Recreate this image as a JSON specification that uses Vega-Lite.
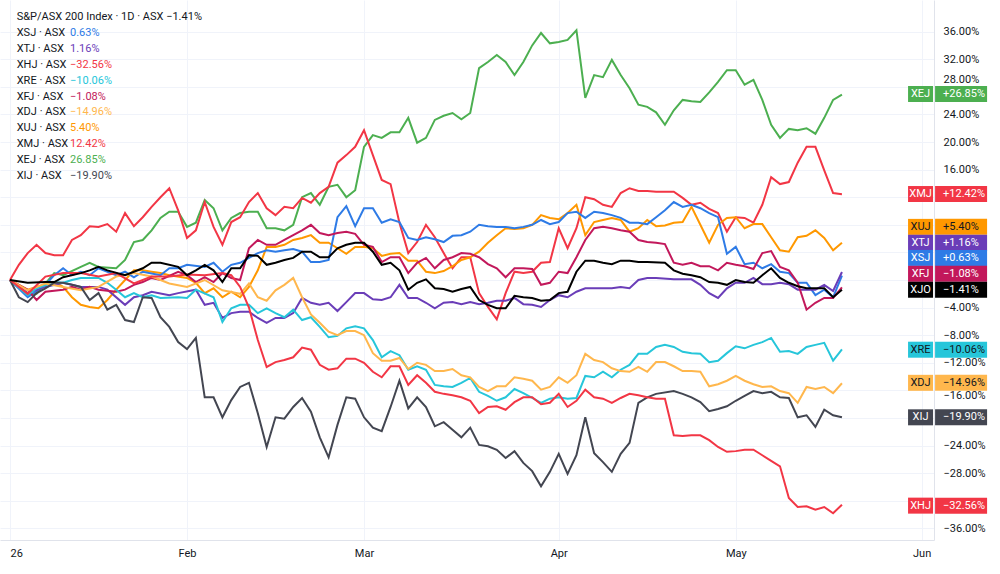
{
"$schema": "https://vega.github.io/schema/vega-lite/v6.json",
"width": 934, "height": 540,
"autosize": {"type": "none"},
"padding": {"left": 0, "top": 0, "right": 66, "bottom": 34},
"background": "#ffffff",
"config": {"view": {"stroke": null}, "font": "Roboto"},
"datasets": {
"tags": [
{"s":"XEJ","tv":26.96,"val":"+26.85%"},
{"s":"XMJ","tv":12.46,"val":"+12.42%"},
{"s":"XUJ","tv":7.7,"val":"+5.40%"},
{"s":"XTJ","tv":5.4,"val":"+1.16%"},
{"s":"XSJ","tv":3.2,"val":"+0.63%"},
{"s":"XFJ","tv":0.9,"val":"\u22121.08%"},
{"s":"XJO","tv":-1.41,"val":"\u22121.41%"},
{"s":"XRE","tv":-10.1,"val":"\u221210.06%"},
{"s":"XDJ","tv":-14.9,"val":"\u221214.96%"},
{"s":"XIJ","tv":-19.9,"val":"\u221219.90%"},
{"s":"XHJ","tv":-32.7,"val":"\u221232.56%"}
],
"legend": [
{"o":0,"s":"XJO","name":"S&P/ASX 200 Index \u00b7 1D \u00b7 ASX  \u22121.41%","val":""},
{"o":1,"s":"XSJ","name":"XSJ \u00b7 ASX","val":"0.63%"},
{"o":2,"s":"XTJ","name":"XTJ \u00b7 ASX","val":"1.16%"},
{"o":3,"s":"XHJ","name":"XHJ \u00b7 ASX","val":"\u221232.56%"},
{"o":4,"s":"XRE","name":"XRE \u00b7 ASX","val":"\u221210.06%"},
{"o":5,"s":"XFJ","name":"XFJ \u00b7 ASX","val":"\u22121.08%"},
{"o":6,"s":"XDJ","name":"XDJ \u00b7 ASX","val":"\u221214.96%"},
{"o":7,"s":"XUJ","name":"XUJ \u00b7 ASX","val":"5.40%"},
{"o":8,"s":"XMJ","name":"XMJ \u00b7 ASX","val":"12.42%"},
{"o":9,"s":"XEJ","name":"XEJ \u00b7 ASX","val":"26.85%"},
{"o":10,"s":"XIJ","name":"XIJ \u00b7 ASX","val":"\u221219.90%"}
],
"series": [
{"s":"XEJ","d":0,"v":0},{"s":"XEJ","d":2,"v":-2.2},{"s":"XEJ","d":3,"v":-2.0},{"s":"XEJ","d":5,"v":1.0},{"s":"XEJ","d":6,"v":0.7},{"s":"XEJ","d":8,"v":1.9},{"s":"XEJ","d":9,"v":2.5},{"s":"XEJ","d":10,"v":1.9},{"s":"XEJ","d":12,"v":1.7},{"s":"XEJ","d":13,"v":2.9},{"s":"XEJ","d":14,"v":5.5},{"s":"XEJ","d":15,"v":5.8},{"s":"XEJ","d":16,"v":7.2},{"s":"XEJ","d":17,"v":9.0},{"s":"XEJ","d":18,"v":9.9},{"s":"XEJ","d":19,"v":9.9},{"s":"XEJ","d":20,"v":7.7},{"s":"XEJ","d":21,"v":8.3},{"s":"XEJ","d":22,"v":11.6},{"s":"XEJ","d":23,"v":10.4},{"s":"XEJ","d":24,"v":7.2},{"s":"XEJ","d":25,"v":9.0},{"s":"XEJ","d":26,"v":9.7},{"s":"XEJ","d":27,"v":9.9},{"s":"XEJ","d":28,"v":9.9},{"s":"XEJ","d":29,"v":7.5},{"s":"XEJ","d":30,"v":7.5},{"s":"XEJ","d":31,"v":7.2},{"s":"XEJ","d":32,"v":8.0},{"s":"XEJ","d":33,"v":12.0},{"s":"XEJ","d":34,"v":12.6},{"s":"XEJ","d":35,"v":10.9},{"s":"XEJ","d":36,"v":13.5},{"s":"XEJ","d":37,"v":13.8},{"s":"XEJ","d":38,"v":12.0},{"s":"XEJ","d":39,"v":13.0},{"s":"XEJ","d":40,"v":19.3},{"s":"XEJ","d":41,"v":21.0},{"s":"XEJ","d":42,"v":20.6},{"s":"XEJ","d":43,"v":21.4},{"s":"XEJ","d":44,"v":21.4},{"s":"XEJ","d":45,"v":23.5},{"s":"XEJ","d":46,"v":19.9},{"s":"XEJ","d":47,"v":20.6},{"s":"XEJ","d":48,"v":23.2},{"s":"XEJ","d":49,"v":23.8},{"s":"XEJ","d":50,"v":24.2},{"s":"XEJ","d":51,"v":23.3},{"s":"XEJ","d":52,"v":24.2},{"s":"XEJ","d":53,"v":30.7},{"s":"XEJ","d":54,"v":31.6},{"s":"XEJ","d":55,"v":32.6},{"s":"XEJ","d":56,"v":31.6},{"s":"XEJ","d":57,"v":29.7},{"s":"XEJ","d":58,"v":31.6},{"s":"XEJ","d":59,"v":34.0},{"s":"XEJ","d":60,"v":35.8},{"s":"XEJ","d":61,"v":34.3},{"s":"XEJ","d":62,"v":34.5},{"s":"XEJ","d":63,"v":34.8},{"s":"XEJ","d":64,"v":36.2},{"s":"XEJ","d":65,"v":26.4},{"s":"XEJ","d":66,"v":29.7},{"s":"XEJ","d":67,"v":29.4},{"s":"XEJ","d":68,"v":31.9},{"s":"XEJ","d":69,"v":29.7},{"s":"XEJ","d":70,"v":27.8},{"s":"XEJ","d":71,"v":25.4},{"s":"XEJ","d":72,"v":25.1},{"s":"XEJ","d":73,"v":24.3},{"s":"XEJ","d":74,"v":22.5},{"s":"XEJ","d":75,"v":24.6},{"s":"XEJ","d":76,"v":26.1},{"s":"XEJ","d":77,"v":25.9},{"s":"XEJ","d":78,"v":25.8},{"s":"XEJ","d":79,"v":27.2},{"s":"XEJ","d":80,"v":28.7},{"s":"XEJ","d":81,"v":30.4},{"s":"XEJ","d":82,"v":30.4},{"s":"XEJ","d":83,"v":28.3},{"s":"XEJ","d":84,"v":29.0},{"s":"XEJ","d":85,"v":26.1},{"s":"XEJ","d":86,"v":22.5},{"s":"XEJ","d":87,"v":20.6},{"s":"XEJ","d":88,"v":21.9},{"s":"XEJ","d":89,"v":21.7},{"s":"XEJ","d":90,"v":22.0},{"s":"XEJ","d":91,"v":21.2},{"s":"XEJ","d":92,"v":23.5},{"s":"XEJ","d":93,"v":26.1},{"s":"XEJ","d":94,"v":26.85},
{"s":"XMJ","d":0,"v":0},{"s":"XMJ","d":1,"v":2.2},{"s":"XMJ","d":2,"v":3.9},{"s":"XMJ","d":3,"v":5.1},{"s":"XMJ","d":4,"v":3.9},{"s":"XMJ","d":5,"v":3.6},{"s":"XMJ","d":6,"v":3.6},{"s":"XMJ","d":7,"v":5.8},{"s":"XMJ","d":8,"v":6.5},{"s":"XMJ","d":9,"v":7.8},{"s":"XMJ","d":10,"v":7.7},{"s":"XMJ","d":11,"v":8.1},{"s":"XMJ","d":12,"v":7.0},{"s":"XMJ","d":13,"v":9.7},{"s":"XMJ","d":14,"v":7.8},{"s":"XMJ","d":15,"v":9.1},{"s":"XMJ","d":16,"v":10.6},{"s":"XMJ","d":17,"v":12.0},{"s":"XMJ","d":18,"v":13.3},{"s":"XMJ","d":19,"v":10.1},{"s":"XMJ","d":20,"v":6.1},{"s":"XMJ","d":21,"v":7.2},{"s":"XMJ","d":22,"v":11.3},{"s":"XMJ","d":23,"v":7.7},{"s":"XMJ","d":24,"v":5.1},{"s":"XMJ","d":25,"v":8.4},{"s":"XMJ","d":26,"v":9.1},{"s":"XMJ","d":27,"v":11.3},{"s":"XMJ","d":28,"v":12.6},{"s":"XMJ","d":29,"v":10.4},{"s":"XMJ","d":30,"v":9.4},{"s":"XMJ","d":31,"v":10.6},{"s":"XMJ","d":32,"v":10.4},{"s":"XMJ","d":33,"v":11.9},{"s":"XMJ","d":34,"v":11.2},{"s":"XMJ","d":35,"v":12.6},{"s":"XMJ","d":36,"v":13.5},{"s":"XMJ","d":37,"v":17.0},{"s":"XMJ","d":38,"v":18.1},{"s":"XMJ","d":39,"v":19.3},{"s":"XMJ","d":40,"v":21.7},{"s":"XMJ","d":41,"v":18.1},{"s":"XMJ","d":42,"v":14.5},{"s":"XMJ","d":43,"v":13.9},{"s":"XMJ","d":44,"v":8.3},{"s":"XMJ","d":45,"v":3.9},{"s":"XMJ","d":46,"v":5.5},{"s":"XMJ","d":47,"v":8.0},{"s":"XMJ","d":48,"v":6.2},{"s":"XMJ","d":49,"v":3.9},{"s":"XMJ","d":50,"v":1.7},{"s":"XMJ","d":51,"v":3.3},{"s":"XMJ","d":52,"v":3.3},{"s":"XMJ","d":53,"v":-1.9},{"s":"XMJ","d":54,"v":-3.9},{"s":"XMJ","d":55,"v":-5.7},{"s":"XMJ","d":56,"v":-1.9},{"s":"XMJ","d":57,"v":1.2},{"s":"XMJ","d":58,"v":1.0},{"s":"XMJ","d":59,"v":1.2},{"s":"XMJ","d":60,"v":2.5},{"s":"XMJ","d":61,"v":2.6},{"s":"XMJ","d":62,"v":7.5},{"s":"XMJ","d":63,"v":4.6},{"s":"XMJ","d":64,"v":7.5},{"s":"XMJ","d":65,"v":12.0},{"s":"XMJ","d":66,"v":11.7},{"s":"XMJ","d":67,"v":10.9},{"s":"XMJ","d":68,"v":10.6},{"s":"XMJ","d":69,"v":12.6},{"s":"XMJ","d":70,"v":13.3},{"s":"XMJ","d":71,"v":12.9},{"s":"XMJ","d":72,"v":12.9},{"s":"XMJ","d":73,"v":12.8},{"s":"XMJ","d":74,"v":12.8},{"s":"XMJ","d":75,"v":12.8},{"s":"XMJ","d":76,"v":11.9},{"s":"XMJ","d":77,"v":10.9},{"s":"XMJ","d":78,"v":11.2},{"s":"XMJ","d":79,"v":10.3},{"s":"XMJ","d":80,"v":9.7},{"s":"XMJ","d":81,"v":7.0},{"s":"XMJ","d":82,"v":9.1},{"s":"XMJ","d":83,"v":9.0},{"s":"XMJ","d":84,"v":8.3},{"s":"XMJ","d":85,"v":10.9},{"s":"XMJ","d":86,"v":14.9},{"s":"XMJ","d":87,"v":13.9},{"s":"XMJ","d":88,"v":14.2},{"s":"XMJ","d":89,"v":17.0},{"s":"XMJ","d":90,"v":19.3},{"s":"XMJ","d":91,"v":19.3},{"s":"XMJ","d":92,"v":15.9},{"s":"XMJ","d":93,"v":12.6},{"s":"XMJ","d":94,"v":12.42},
{"s":"XUJ","d":0,"v":0},{"s":"XUJ","d":2,"v":-1.4},{"s":"XUJ","d":3,"v":-1.0},{"s":"XUJ","d":5,"v":-0.3},{"s":"XUJ","d":6,"v":-1.0},{"s":"XUJ","d":7,"v":-2.5},{"s":"XUJ","d":8,"v":-3.6},{"s":"XUJ","d":9,"v":-3.9},{"s":"XUJ","d":10,"v":-4.1},{"s":"XUJ","d":11,"v":-2.9},{"s":"XUJ","d":12,"v":-1.4},{"s":"XUJ","d":13,"v":0},{"s":"XUJ","d":14,"v":1.4},{"s":"XUJ","d":15,"v":1.4},{"s":"XUJ","d":16,"v":1.2},{"s":"XUJ","d":17,"v":1.0},{"s":"XUJ","d":18,"v":0.7},{"s":"XUJ","d":20,"v":0.3},{"s":"XUJ","d":21,"v":-0.4},{"s":"XUJ","d":22,"v":-1.9},{"s":"XUJ","d":23,"v":-1.2},{"s":"XUJ","d":24,"v":-2.5},{"s":"XUJ","d":25,"v":-1.7},{"s":"XUJ","d":26,"v":-2.5},{"s":"XUJ","d":27,"v":-1.0},{"s":"XUJ","d":28,"v":1.4},{"s":"XUJ","d":29,"v":4.8},{"s":"XUJ","d":30,"v":4.8},{"s":"XUJ","d":31,"v":5.1},{"s":"XUJ","d":32,"v":5.8},{"s":"XUJ","d":33,"v":6.1},{"s":"XUJ","d":34,"v":6.5},{"s":"XUJ","d":35,"v":5.4},{"s":"XUJ","d":36,"v":5.4},{"s":"XUJ","d":37,"v":4.6},{"s":"XUJ","d":38,"v":3.8},{"s":"XUJ","d":39,"v":4.8},{"s":"XUJ","d":40,"v":4.8},{"s":"XUJ","d":41,"v":4.6},{"s":"XUJ","d":42,"v":3.5},{"s":"XUJ","d":43,"v":3.8},{"s":"XUJ","d":44,"v":3.9},{"s":"XUJ","d":45,"v":2.8},{"s":"XUJ","d":46,"v":2.8},{"s":"XUJ","d":47,"v":1.2},{"s":"XUJ","d":48,"v":1.0},{"s":"XUJ","d":49,"v":1.3},{"s":"XUJ","d":50,"v":2.0},{"s":"XUJ","d":51,"v":2.9},{"s":"XUJ","d":52,"v":3.3},{"s":"XUJ","d":53,"v":4.1},{"s":"XUJ","d":54,"v":5.4},{"s":"XUJ","d":55,"v":6.5},{"s":"XUJ","d":56,"v":7.5},{"s":"XUJ","d":57,"v":7.4},{"s":"XUJ","d":58,"v":7.5},{"s":"XUJ","d":59,"v":8.0},{"s":"XUJ","d":60,"v":9.4},{"s":"XUJ","d":61,"v":9.0},{"s":"XUJ","d":62,"v":8.8},{"s":"XUJ","d":63,"v":9.7},{"s":"XUJ","d":64,"v":10.9},{"s":"XUJ","d":65,"v":6.5},{"s":"XUJ","d":66,"v":8.4},{"s":"XUJ","d":67,"v":8.7},{"s":"XUJ","d":68,"v":9.0},{"s":"XUJ","d":69,"v":8.7},{"s":"XUJ","d":70,"v":7.0},{"s":"XUJ","d":71,"v":7.5},{"s":"XUJ","d":72,"v":8.7},{"s":"XUJ","d":73,"v":7.8},{"s":"XUJ","d":74,"v":7.9},{"s":"XUJ","d":75,"v":8.3},{"s":"XUJ","d":76,"v":8.4},{"s":"XUJ","d":77,"v":10.6},{"s":"XUJ","d":78,"v":8.0},{"s":"XUJ","d":79,"v":5.4},{"s":"XUJ","d":80,"v":8.0},{"s":"XUJ","d":81,"v":9.0},{"s":"XUJ","d":82,"v":9.1},{"s":"XUJ","d":83,"v":7.5},{"s":"XUJ","d":84,"v":8.1},{"s":"XUJ","d":85,"v":8.1},{"s":"XUJ","d":86,"v":6.2},{"s":"XUJ","d":87,"v":4.3},{"s":"XUJ","d":88,"v":4.1},{"s":"XUJ","d":89,"v":6.2},{"s":"XUJ","d":90,"v":6.4},{"s":"XUJ","d":91,"v":7.2},{"s":"XUJ","d":92,"v":6.1},{"s":"XUJ","d":93,"v":4.3},{"s":"XUJ","d":94,"v":5.4},
{"s":"XSJ","d":0,"v":0},{"s":"XSJ","d":2,"v":-2.5},{"s":"XSJ","d":4,"v":-0.7},{"s":"XSJ","d":5,"v":0.7},{"s":"XSJ","d":6,"v":1.7},{"s":"XSJ","d":7,"v":0.7},{"s":"XSJ","d":8,"v":1.2},{"s":"XSJ","d":9,"v":0.7},{"s":"XSJ","d":10,"v":1.7},{"s":"XSJ","d":11,"v":1.2},{"s":"XSJ","d":12,"v":0.7},{"s":"XSJ","d":13,"v":1.2},{"s":"XSJ","d":14,"v":0.4},{"s":"XSJ","d":15,"v":1.2},{"s":"XSJ","d":17,"v":0.7},{"s":"XSJ","d":18,"v":1.7},{"s":"XSJ","d":19,"v":1.7},{"s":"XSJ","d":20,"v":2.2},{"s":"XSJ","d":22,"v":1.9},{"s":"XSJ","d":23,"v":2.5},{"s":"XSJ","d":24,"v":1.2},{"s":"XSJ","d":25,"v":2.2},{"s":"XSJ","d":26,"v":2.5},{"s":"XSJ","d":27,"v":3.2},{"s":"XSJ","d":28,"v":3.9},{"s":"XSJ","d":29,"v":4.3},{"s":"XSJ","d":30,"v":4.1},{"s":"XSJ","d":31,"v":4.3},{"s":"XSJ","d":32,"v":4.5},{"s":"XSJ","d":33,"v":4.1},{"s":"XSJ","d":34,"v":2.6},{"s":"XSJ","d":35,"v":2.6},{"s":"XSJ","d":36,"v":2.9},{"s":"XSJ","d":37,"v":9.1},{"s":"XSJ","d":38,"v":10.7},{"s":"XSJ","d":39,"v":7.8},{"s":"XSJ","d":40,"v":10.4},{"s":"XSJ","d":41,"v":10.4},{"s":"XSJ","d":42,"v":8.3},{"s":"XSJ","d":43,"v":8.8},{"s":"XSJ","d":44,"v":8.4},{"s":"XSJ","d":45,"v":6.1},{"s":"XSJ","d":46,"v":5.8},{"s":"XSJ","d":47,"v":6.2},{"s":"XSJ","d":48,"v":5.9},{"s":"XSJ","d":49,"v":5.5},{"s":"XSJ","d":50,"v":6.4},{"s":"XSJ","d":51,"v":6.5},{"s":"XSJ","d":52,"v":7.0},{"s":"XSJ","d":53,"v":8.0},{"s":"XSJ","d":54,"v":7.8},{"s":"XSJ","d":55,"v":7.7},{"s":"XSJ","d":56,"v":7.7},{"s":"XSJ","d":57,"v":7.5},{"s":"XSJ","d":58,"v":7.7},{"s":"XSJ","d":59,"v":8.0},{"s":"XSJ","d":60,"v":8.7},{"s":"XSJ","d":61,"v":8.1},{"s":"XSJ","d":62,"v":8.4},{"s":"XSJ","d":63,"v":9.7},{"s":"XSJ","d":64,"v":9.9},{"s":"XSJ","d":65,"v":9.0},{"s":"XSJ","d":66,"v":9.9},{"s":"XSJ","d":67,"v":9.7},{"s":"XSJ","d":68,"v":9.4},{"s":"XSJ","d":69,"v":9.0},{"s":"XSJ","d":70,"v":8.3},{"s":"XSJ","d":71,"v":8.3},{"s":"XSJ","d":72,"v":8.1},{"s":"XSJ","d":73,"v":9.1},{"s":"XSJ","d":74,"v":10.1},{"s":"XSJ","d":75,"v":11.3},{"s":"XSJ","d":76,"v":10.6},{"s":"XSJ","d":77,"v":10.9},{"s":"XSJ","d":78,"v":10.4},{"s":"XSJ","d":79,"v":9.7},{"s":"XSJ","d":80,"v":9.1},{"s":"XSJ","d":81,"v":3.8},{"s":"XSJ","d":82,"v":4.8},{"s":"XSJ","d":83,"v":2.3},{"s":"XSJ","d":84,"v":2.5},{"s":"XSJ","d":85,"v":1.7},{"s":"XSJ","d":86,"v":2.3},{"s":"XSJ","d":87,"v":1.2},{"s":"XSJ","d":88,"v":1.0},{"s":"XSJ","d":89,"v":-0.4},{"s":"XSJ","d":90,"v":-0.4},{"s":"XSJ","d":91,"v":-2.2},{"s":"XSJ","d":92,"v":-1.4},{"s":"XSJ","d":93,"v":-2.5},{"s":"XSJ","d":94,"v":0.63},
{"s":"XTJ","d":0,"v":0},{"s":"XTJ","d":2,"v":-1.9},{"s":"XTJ","d":4,"v":-1.0},{"s":"XTJ","d":6,"v":-0.4},{"s":"XTJ","d":7,"v":-0.7},{"s":"XTJ","d":8,"v":-1.0},{"s":"XTJ","d":10,"v":-1.0},{"s":"XTJ","d":11,"v":-1.4},{"s":"XTJ","d":13,"v":-3.6},{"s":"XTJ","d":14,"v":-2.5},{"s":"XTJ","d":15,"v":-2.2},{"s":"XTJ","d":16,"v":-1.7},{"s":"XTJ","d":18,"v":-2.2},{"s":"XTJ","d":19,"v":-1.9},{"s":"XTJ","d":21,"v":-1.4},{"s":"XTJ","d":22,"v":-3.6},{"s":"XTJ","d":23,"v":-3.3},{"s":"XTJ","d":24,"v":-5.5},{"s":"XTJ","d":25,"v":-4.8},{"s":"XTJ","d":26,"v":-4.6},{"s":"XTJ","d":27,"v":-4.6},{"s":"XTJ","d":28,"v":-5.5},{"s":"XTJ","d":29,"v":-6.2},{"s":"XTJ","d":30,"v":-5.5},{"s":"XTJ","d":31,"v":-5.5},{"s":"XTJ","d":32,"v":-4.8},{"s":"XTJ","d":33,"v":-2.6},{"s":"XTJ","d":34,"v":-3.3},{"s":"XTJ","d":35,"v":-3.6},{"s":"XTJ","d":36,"v":-3.3},{"s":"XTJ","d":37,"v":-4.5},{"s":"XTJ","d":38,"v":-3.2},{"s":"XTJ","d":39,"v":-1.9},{"s":"XTJ","d":40,"v":-1.9},{"s":"XTJ","d":41,"v":-2.8},{"s":"XTJ","d":42,"v":-2.9},{"s":"XTJ","d":43,"v":-2.5},{"s":"XTJ","d":44,"v":-0.7},{"s":"XTJ","d":45,"v":-2.6},{"s":"XTJ","d":46,"v":-2.6},{"s":"XTJ","d":47,"v":-3.3},{"s":"XTJ","d":48,"v":-4.1},{"s":"XTJ","d":49,"v":-3.3},{"s":"XTJ","d":50,"v":-3.2},{"s":"XTJ","d":51,"v":-3.5},{"s":"XTJ","d":52,"v":-3.2},{"s":"XTJ","d":53,"v":-3.5},{"s":"XTJ","d":54,"v":-3.3},{"s":"XTJ","d":55,"v":-3.0},{"s":"XTJ","d":56,"v":-3.0},{"s":"XTJ","d":57,"v":-2.6},{"s":"XTJ","d":58,"v":-3.5},{"s":"XTJ","d":59,"v":-3.6},{"s":"XTJ","d":60,"v":-3.9},{"s":"XTJ","d":61,"v":-2.9},{"s":"XTJ","d":62,"v":-2.2},{"s":"XTJ","d":63,"v":-2.5},{"s":"XTJ","d":64,"v":-1.7},{"s":"XTJ","d":65,"v":-1.2},{"s":"XTJ","d":66,"v":-1.2},{"s":"XTJ","d":67,"v":-1.2},{"s":"XTJ","d":68,"v":-1.2},{"s":"XTJ","d":69,"v":-1.0},{"s":"XTJ","d":70,"v":-1.2},{"s":"XTJ","d":71,"v":0},{"s":"XTJ","d":72,"v":0.3},{"s":"XTJ","d":73,"v":0.3},{"s":"XTJ","d":75,"v":0.1},{"s":"XTJ","d":77,"v":0.1},{"s":"XTJ","d":78,"v":-0.7},{"s":"XTJ","d":79,"v":-1.9},{"s":"XTJ","d":80,"v":-2.6},{"s":"XTJ","d":81,"v":-1.2},{"s":"XTJ","d":82,"v":-0.4},{"s":"XTJ","d":83,"v":-0.4},{"s":"XTJ","d":84,"v":0.3},{"s":"XTJ","d":85,"v":-0.6},{"s":"XTJ","d":86,"v":-0.6},{"s":"XTJ","d":87,"v":-0.4},{"s":"XTJ","d":88,"v":-0.6},{"s":"XTJ","d":89,"v":-1.4},{"s":"XTJ","d":90,"v":-1.4},{"s":"XTJ","d":91,"v":-1.4},{"s":"XTJ","d":92,"v":-0.7},{"s":"XTJ","d":93,"v":-1.6},{"s":"XTJ","d":94,"v":1.16},
{"s":"XFJ","d":0,"v":0},{"s":"XFJ","d":2,"v":-1.4},{"s":"XFJ","d":3,"v":-2.9},{"s":"XFJ","d":4,"v":-1.7},{"s":"XFJ","d":6,"v":-1.4},{"s":"XFJ","d":7,"v":-1.0},{"s":"XFJ","d":8,"v":-1.4},{"s":"XFJ","d":9,"v":-1.0},{"s":"XFJ","d":10,"v":-1.4},{"s":"XFJ","d":12,"v":-1.7},{"s":"XFJ","d":13,"v":-1.4},{"s":"XFJ","d":14,"v":-0.7},{"s":"XFJ","d":15,"v":-0.3},{"s":"XFJ","d":16,"v":0.3},{"s":"XFJ","d":17,"v":0},{"s":"XFJ","d":19,"v":1.2},{"s":"XFJ","d":20,"v":0.7},{"s":"XFJ","d":21,"v":-0.3},{"s":"XFJ","d":22,"v":0.4},{"s":"XFJ","d":23,"v":-0.3},{"s":"XFJ","d":24,"v":1.0},{"s":"XFJ","d":25,"v":0.3},{"s":"XFJ","d":26,"v":0},{"s":"XFJ","d":27,"v":4.6},{"s":"XFJ","d":28,"v":5.8},{"s":"XFJ","d":29,"v":5.1},{"s":"XFJ","d":30,"v":5.1},{"s":"XFJ","d":31,"v":5.8},{"s":"XFJ","d":32,"v":6.5},{"s":"XFJ","d":33,"v":7.2},{"s":"XFJ","d":34,"v":8.0},{"s":"XFJ","d":35,"v":6.8},{"s":"XFJ","d":36,"v":6.5},{"s":"XFJ","d":37,"v":6.8},{"s":"XFJ","d":38,"v":7.0},{"s":"XFJ","d":39,"v":6.7},{"s":"XFJ","d":40,"v":5.1},{"s":"XFJ","d":41,"v":4.8},{"s":"XFJ","d":42,"v":2.6},{"s":"XFJ","d":43,"v":3.3},{"s":"XFJ","d":44,"v":3.3},{"s":"XFJ","d":45,"v":1.0},{"s":"XFJ","d":46,"v":2.5},{"s":"XFJ","d":47,"v":3.2},{"s":"XFJ","d":48,"v":1.7},{"s":"XFJ","d":49,"v":2.9},{"s":"XFJ","d":50,"v":3.3},{"s":"XFJ","d":51,"v":3.9},{"s":"XFJ","d":52,"v":3.8},{"s":"XFJ","d":53,"v":3.3},{"s":"XFJ","d":54,"v":2.3},{"s":"XFJ","d":55,"v":1.7},{"s":"XFJ","d":56,"v":0.4},{"s":"XFJ","d":57,"v":1.7},{"s":"XFJ","d":58,"v":1.7},{"s":"XFJ","d":59,"v":1.6},{"s":"XFJ","d":60,"v":-0.7},{"s":"XFJ","d":61,"v":-0.4},{"s":"XFJ","d":62,"v":1.2},{"s":"XFJ","d":63,"v":1.0},{"s":"XFJ","d":64,"v":3.3},{"s":"XFJ","d":65,"v":5.8},{"s":"XFJ","d":66,"v":7.5},{"s":"XFJ","d":67,"v":7.7},{"s":"XFJ","d":68,"v":7.5},{"s":"XFJ","d":69,"v":7.2},{"s":"XFJ","d":70,"v":7.0},{"s":"XFJ","d":71,"v":5.8},{"s":"XFJ","d":72,"v":5.5},{"s":"XFJ","d":73,"v":5.4},{"s":"XFJ","d":74,"v":5.2},{"s":"XFJ","d":75,"v":2.5},{"s":"XFJ","d":76,"v":2.2},{"s":"XFJ","d":77,"v":2.5},{"s":"XFJ","d":78,"v":2.0},{"s":"XFJ","d":79,"v":2.0},{"s":"XFJ","d":80,"v":1.4},{"s":"XFJ","d":81,"v":2.5},{"s":"XFJ","d":82,"v":2.2},{"s":"XFJ","d":83,"v":2.0},{"s":"XFJ","d":84,"v":1.6},{"s":"XFJ","d":85,"v":3.9},{"s":"XFJ","d":86,"v":4.2},{"s":"XFJ","d":87,"v":1.9},{"s":"XFJ","d":88,"v":1.4},{"s":"XFJ","d":89,"v":-0.4},{"s":"XFJ","d":90,"v":-4.3},{"s":"XFJ","d":91,"v":-3.3},{"s":"XFJ","d":92,"v":-2.6},{"s":"XFJ","d":93,"v":-2.6},{"s":"XFJ","d":94,"v":-1.08},
{"s":"XRE","d":0,"v":0},{"s":"XRE","d":2,"v":-2.2},{"s":"XRE","d":3,"v":-1.2},{"s":"XRE","d":5,"v":-0.3},{"s":"XRE","d":6,"v":-0.4},{"s":"XRE","d":7,"v":0},{"s":"XRE","d":8,"v":0.3},{"s":"XRE","d":10,"v":0.3},{"s":"XRE","d":11,"v":-0.4},{"s":"XRE","d":12,"v":-1.4},{"s":"XRE","d":13,"v":-2.5},{"s":"XRE","d":14,"v":-1.9},{"s":"XRE","d":15,"v":-2.5},{"s":"XRE","d":16,"v":-2.2},{"s":"XRE","d":17,"v":-2.6},{"s":"XRE","d":19,"v":-2.5},{"s":"XRE","d":20,"v":-2.6},{"s":"XRE","d":21,"v":-1.4},{"s":"XRE","d":23,"v":-2.5},{"s":"XRE","d":24,"v":-6.1},{"s":"XRE","d":25,"v":-4.1},{"s":"XRE","d":26,"v":-3.6},{"s":"XRE","d":27,"v":-3.6},{"s":"XRE","d":28,"v":-4.8},{"s":"XRE","d":29,"v":-4.1},{"s":"XRE","d":30,"v":-4.8},{"s":"XRE","d":31,"v":-5.4},{"s":"XRE","d":32,"v":-4.3},{"s":"XRE","d":33,"v":-5.8},{"s":"XRE","d":34,"v":-5.4},{"s":"XRE","d":35,"v":-6.8},{"s":"XRE","d":36,"v":-8.3},{"s":"XRE","d":37,"v":-8.1},{"s":"XRE","d":38,"v":-7.0},{"s":"XRE","d":39,"v":-6.7},{"s":"XRE","d":40,"v":-7.0},{"s":"XRE","d":41,"v":-8.7},{"s":"XRE","d":42,"v":-11.2},{"s":"XRE","d":43,"v":-10.3},{"s":"XRE","d":44,"v":-10.9},{"s":"XRE","d":45,"v":-13.0},{"s":"XRE","d":46,"v":-12.5},{"s":"XRE","d":47,"v":-13.0},{"s":"XRE","d":48,"v":-15.2},{"s":"XRE","d":49,"v":-15.4},{"s":"XRE","d":50,"v":-15.5},{"s":"XRE","d":51,"v":-14.9},{"s":"XRE","d":52,"v":-14.2},{"s":"XRE","d":53,"v":-16.2},{"s":"XRE","d":54,"v":-16.8},{"s":"XRE","d":55,"v":-17.5},{"s":"XRE","d":56,"v":-17.0},{"s":"XRE","d":57,"v":-15.8},{"s":"XRE","d":58,"v":-16.4},{"s":"XRE","d":59,"v":-17.1},{"s":"XRE","d":60,"v":-17.8},{"s":"XRE","d":61,"v":-17.2},{"s":"XRE","d":62,"v":-17.0},{"s":"XRE","d":63,"v":-17.2},{"s":"XRE","d":64,"v":-17.1},{"s":"XRE","d":65,"v":-13.9},{"s":"XRE","d":66,"v":-14.1},{"s":"XRE","d":67,"v":-13.3},{"s":"XRE","d":68,"v":-14.1},{"s":"XRE","d":69,"v":-13.0},{"s":"XRE","d":70,"v":-12.3},{"s":"XRE","d":71,"v":-10.7},{"s":"XRE","d":72,"v":-10.7},{"s":"XRE","d":73,"v":-9.7},{"s":"XRE","d":74,"v":-9.4},{"s":"XRE","d":75,"v":-9.7},{"s":"XRE","d":76,"v":-10.4},{"s":"XRE","d":77,"v":-10.6},{"s":"XRE","d":78,"v":-10.7},{"s":"XRE","d":79,"v":-11.9},{"s":"XRE","d":80,"v":-11.7},{"s":"XRE","d":81,"v":-10.6},{"s":"XRE","d":82,"v":-9.6},{"s":"XRE","d":83,"v":-9.9},{"s":"XRE","d":84,"v":-9.4},{"s":"XRE","d":85,"v":-9.0},{"s":"XRE","d":86,"v":-8.4},{"s":"XRE","d":87,"v":-10.4},{"s":"XRE","d":88,"v":-10.3},{"s":"XRE","d":89,"v":-10.7},{"s":"XRE","d":90,"v":-9.7},{"s":"XRE","d":91,"v":-9.4},{"s":"XRE","d":92,"v":-9.1},{"s":"XRE","d":93,"v":-11.7},{"s":"XRE","d":94,"v":-10.06},
{"s":"XDJ","d":0,"v":0},{"s":"XDJ","d":2,"v":-1.5},{"s":"XDJ","d":4,"v":-0.5},{"s":"XDJ","d":6,"v":-1.0},{"s":"XDJ","d":8,"v":-1.5},{"s":"XDJ","d":10,"v":-1.0},{"s":"XDJ","d":12,"v":0.5},{"s":"XDJ","d":14,"v":1.0},{"s":"XDJ","d":16,"v":0.5},{"s":"XDJ","d":18,"v":-0.5},{"s":"XDJ","d":20,"v":-1.0},{"s":"XDJ","d":22,"v":0},{"s":"XDJ","d":24,"v":-1.5},{"s":"XDJ","d":26,"v":-2.0},{"s":"XDJ","d":27,"v":-0.5},{"s":"XDJ","d":28,"v":-2.5},{"s":"XDJ","d":29,"v":-3.0},{"s":"XDJ","d":30,"v":-1.5},{"s":"XDJ","d":31,"v":-0.7},{"s":"XDJ","d":32,"v":0.3},{"s":"XDJ","d":33,"v":-2.5},{"s":"XDJ","d":34,"v":-5.0},{"s":"XDJ","d":35,"v":-6.2},{"s":"XDJ","d":36,"v":-7.5},{"s":"XDJ","d":37,"v":-8.0},{"s":"XDJ","d":38,"v":-7.4},{"s":"XDJ","d":39,"v":-7.4},{"s":"XDJ","d":40,"v":-8.0},{"s":"XDJ","d":41,"v":-10.6},{"s":"XDJ","d":42,"v":-11.7},{"s":"XDJ","d":43,"v":-11.7},{"s":"XDJ","d":44,"v":-11.3},{"s":"XDJ","d":45,"v":-12.9},{"s":"XDJ","d":46,"v":-12.0},{"s":"XDJ","d":47,"v":-12.3},{"s":"XDJ","d":48,"v":-13.2},{"s":"XDJ","d":49,"v":-13.2},{"s":"XDJ","d":50,"v":-12.9},{"s":"XDJ","d":51,"v":-13.8},{"s":"XDJ","d":52,"v":-14.1},{"s":"XDJ","d":53,"v":-15.5},{"s":"XDJ","d":54,"v":-16.1},{"s":"XDJ","d":55,"v":-15.4},{"s":"XDJ","d":56,"v":-15.4},{"s":"XDJ","d":57,"v":-14.1},{"s":"XDJ","d":58,"v":-14.3},{"s":"XDJ","d":59,"v":-14.6},{"s":"XDJ","d":60,"v":-15.9},{"s":"XDJ","d":61,"v":-15.5},{"s":"XDJ","d":62,"v":-14.1},{"s":"XDJ","d":63,"v":-14.9},{"s":"XDJ","d":64,"v":-13.8},{"s":"XDJ","d":65,"v":-10.7},{"s":"XDJ","d":66,"v":-11.6},{"s":"XDJ","d":67,"v":-11.9},{"s":"XDJ","d":68,"v":-12.8},{"s":"XDJ","d":69,"v":-13.2},{"s":"XDJ","d":70,"v":-13.3},{"s":"XDJ","d":71,"v":-12.6},{"s":"XDJ","d":72,"v":-13.3},{"s":"XDJ","d":73,"v":-11.9},{"s":"XDJ","d":74,"v":-11.9},{"s":"XDJ","d":75,"v":-12.5},{"s":"XDJ","d":76,"v":-13.2},{"s":"XDJ","d":77,"v":-13.2},{"s":"XDJ","d":78,"v":-13.3},{"s":"XDJ","d":79,"v":-15.4},{"s":"XDJ","d":80,"v":-15.1},{"s":"XDJ","d":81,"v":-14.6},{"s":"XDJ","d":82,"v":-13.9},{"s":"XDJ","d":83,"v":-14.6},{"s":"XDJ","d":84,"v":-15.1},{"s":"XDJ","d":85,"v":-15.5},{"s":"XDJ","d":86,"v":-15.4},{"s":"XDJ","d":87,"v":-16.1},{"s":"XDJ","d":88,"v":-16.4},{"s":"XDJ","d":89,"v":-17.8},{"s":"XDJ","d":90,"v":-15.5},{"s":"XDJ","d":91,"v":-15.8},{"s":"XDJ","d":92,"v":-15.5},{"s":"XDJ","d":93,"v":-16.4},{"s":"XDJ","d":94,"v":-14.96},
{"s":"XIJ","d":0,"v":0},{"s":"XIJ","d":1,"v":-2.5},{"s":"XIJ","d":2,"v":-3.2},{"s":"XIJ","d":3,"v":-1.9},{"s":"XIJ","d":4,"v":-1.2},{"s":"XIJ","d":5,"v":-0.4},{"s":"XIJ","d":6,"v":-0.4},{"s":"XIJ","d":7,"v":-0.7},{"s":"XIJ","d":8,"v":-1.0},{"s":"XIJ","d":9,"v":-2.9},{"s":"XIJ","d":10,"v":-1.9},{"s":"XIJ","d":11,"v":-4.3},{"s":"XIJ","d":12,"v":-3.6},{"s":"XIJ","d":13,"v":-5.8},{"s":"XIJ","d":14,"v":-6.1},{"s":"XIJ","d":15,"v":-2.5},{"s":"XIJ","d":16,"v":-2.6},{"s":"XIJ","d":17,"v":-5.4},{"s":"XIJ","d":18,"v":-6.8},{"s":"XIJ","d":19,"v":-9.0},{"s":"XIJ","d":20,"v":-10.0},{"s":"XIJ","d":21,"v":-8.4},{"s":"XIJ","d":22,"v":-17.0},{"s":"XIJ","d":23,"v":-17.0},{"s":"XIJ","d":24,"v":-19.9},{"s":"XIJ","d":25,"v":-17.4},{"s":"XIJ","d":26,"v":-15.5},{"s":"XIJ","d":27,"v":-14.9},{"s":"XIJ","d":28,"v":-19.3},{"s":"XIJ","d":29,"v":-24.2},{"s":"XIJ","d":30,"v":-19.9},{"s":"XIJ","d":31,"v":-20.1},{"s":"XIJ","d":32,"v":-18.4},{"s":"XIJ","d":33,"v":-17.1},{"s":"XIJ","d":34,"v":-19.1},{"s":"XIJ","d":35,"v":-22.8},{"s":"XIJ","d":36,"v":-25.7},{"s":"XIJ","d":37,"v":-21.0},{"s":"XIJ","d":38,"v":-17.0},{"s":"XIJ","d":39,"v":-17.2},{"s":"XIJ","d":40,"v":-19.9},{"s":"XIJ","d":41,"v":-21.4},{"s":"XIJ","d":42,"v":-21.9},{"s":"XIJ","d":43,"v":-18.4},{"s":"XIJ","d":44,"v":-14.6},{"s":"XIJ","d":45,"v":-18.6},{"s":"XIJ","d":46,"v":-17.0},{"s":"XIJ","d":47,"v":-18.4},{"s":"XIJ","d":48,"v":-21.2},{"s":"XIJ","d":49,"v":-20.6},{"s":"XIJ","d":50,"v":-21.7},{"s":"XIJ","d":51,"v":-22.8},{"s":"XIJ","d":52,"v":-21.4},{"s":"XIJ","d":53,"v":-23.9},{"s":"XIJ","d":54,"v":-24.1},{"s":"XIJ","d":55,"v":-24.6},{"s":"XIJ","d":56,"v":-25.8},{"s":"XIJ","d":57,"v":-24.8},{"s":"XIJ","d":58,"v":-26.5},{"s":"XIJ","d":59,"v":-27.7},{"s":"XIJ","d":60,"v":-29.9},{"s":"XIJ","d":61,"v":-27.8},{"s":"XIJ","d":62,"v":-25.2},{"s":"XIJ","d":63,"v":-28.1},{"s":"XIJ","d":64,"v":-25.4},{"s":"XIJ","d":65,"v":-19.9},{"s":"XIJ","d":66,"v":-25.1},{"s":"XIJ","d":67,"v":-26.4},{"s":"XIJ","d":68,"v":-27.8},{"s":"XIJ","d":69,"v":-25.2},{"s":"XIJ","d":70,"v":-23.6},{"s":"XIJ","d":71,"v":-17.8},{"s":"XIJ","d":72,"v":-17.0},{"s":"XIJ","d":73,"v":-16.5},{"s":"XIJ","d":75,"v":-16.1},{"s":"XIJ","d":76,"v":-16.5},{"s":"XIJ","d":77,"v":-17.0},{"s":"XIJ","d":78,"v":-17.7},{"s":"XIJ","d":79,"v":-19.0},{"s":"XIJ","d":80,"v":-18.7},{"s":"XIJ","d":81,"v":-18.3},{"s":"XIJ","d":82,"v":-17.5},{"s":"XIJ","d":83,"v":-16.8},{"s":"XIJ","d":84,"v":-16.1},{"s":"XIJ","d":85,"v":-16.4},{"s":"XIJ","d":86,"v":-16.2},{"s":"XIJ","d":87,"v":-17.0},{"s":"XIJ","d":88,"v":-17.1},{"s":"XIJ","d":89,"v":-19.9},{"s":"XIJ","d":90,"v":-19.6},{"s":"XIJ","d":91,"v":-21.3},{"s":"XIJ","d":92,"v":-18.8},{"s":"XIJ","d":93,"v":-19.6},{"s":"XIJ","d":94,"v":-19.9},
{"s":"XHJ","d":0,"v":0},{"s":"XHJ","d":2,"v":-2.0},{"s":"XHJ","d":4,"v":0.5},{"s":"XHJ","d":6,"v":1.0},{"s":"XHJ","d":8,"v":1.0},{"s":"XHJ","d":10,"v":0.5},{"s":"XHJ","d":12,"v":1.0},{"s":"XHJ","d":14,"v":-0.5},{"s":"XHJ","d":16,"v":0.5},{"s":"XHJ","d":18,"v":0.5},{"s":"XHJ","d":20,"v":0.8},{"s":"XHJ","d":22,"v":0.7},{"s":"XHJ","d":24,"v":1.0},{"s":"XHJ","d":25,"v":0.7},{"s":"XHJ","d":26,"v":-1.0},{"s":"XHJ","d":27,"v":-4.0},{"s":"XHJ","d":28,"v":-8.7},{"s":"XHJ","d":29,"v":-12.6},{"s":"XHJ","d":30,"v":-11.9},{"s":"XHJ","d":31,"v":-11.6},{"s":"XHJ","d":32,"v":-11.2},{"s":"XHJ","d":33,"v":-9.8},{"s":"XHJ","d":34,"v":-10.1},{"s":"XHJ","d":35,"v":-12.3},{"s":"XHJ","d":36,"v":-13.0},{"s":"XHJ","d":37,"v":-12.8},{"s":"XHJ","d":38,"v":-11.4},{"s":"XHJ","d":39,"v":-11.4},{"s":"XHJ","d":40,"v":-12.0},{"s":"XHJ","d":41,"v":-13.3},{"s":"XHJ","d":42,"v":-14.1},{"s":"XHJ","d":43,"v":-12.5},{"s":"XHJ","d":44,"v":-12.5},{"s":"XHJ","d":45,"v":-15.2},{"s":"XHJ","d":46,"v":-13.8},{"s":"XHJ","d":47,"v":-14.9},{"s":"XHJ","d":48,"v":-16.2},{"s":"XHJ","d":49,"v":-16.5},{"s":"XHJ","d":50,"v":-16.7},{"s":"XHJ","d":51,"v":-17.0},{"s":"XHJ","d":52,"v":-17.5},{"s":"XHJ","d":53,"v":-19.3},{"s":"XHJ","d":54,"v":-18.4},{"s":"XHJ","d":55,"v":-18.3},{"s":"XHJ","d":56,"v":-18.8},{"s":"XHJ","d":57,"v":-17.7},{"s":"XHJ","d":58,"v":-17.0},{"s":"XHJ","d":59,"v":-17.0},{"s":"XHJ","d":60,"v":-18.0},{"s":"XHJ","d":61,"v":-17.8},{"s":"XHJ","d":62,"v":-16.5},{"s":"XHJ","d":63,"v":-18.4},{"s":"XHJ","d":64,"v":-17.5},{"s":"XHJ","d":65,"v":-15.9},{"s":"XHJ","d":66,"v":-17.0},{"s":"XHJ","d":67,"v":-17.2},{"s":"XHJ","d":68,"v":-17.8},{"s":"XHJ","d":69,"v":-17.1},{"s":"XHJ","d":70,"v":-16.5},{"s":"XHJ","d":71,"v":-16.7},{"s":"XHJ","d":72,"v":-17.0},{"s":"XHJ","d":73,"v":-17.2},{"s":"XHJ","d":74,"v":-17.2},{"s":"XHJ","d":75,"v":-22.5},{"s":"XHJ","d":76,"v":-22.6},{"s":"XHJ","d":77,"v":-22.5},{"s":"XHJ","d":78,"v":-22.5},{"s":"XHJ","d":79,"v":-23.2},{"s":"XHJ","d":80,"v":-24.2},{"s":"XHJ","d":81,"v":-24.9},{"s":"XHJ","d":82,"v":-24.8},{"s":"XHJ","d":83,"v":-24.6},{"s":"XHJ","d":84,"v":-24.6},{"s":"XHJ","d":85,"v":-25.4},{"s":"XHJ","d":86,"v":-26.2},{"s":"XHJ","d":87,"v":-27.0},{"s":"XHJ","d":88,"v":-31.6},{"s":"XHJ","d":89,"v":-32.9},{"s":"XHJ","d":90,"v":-32.8},{"s":"XHJ","d":91,"v":-33.3},{"s":"XHJ","d":92,"v":-32.9},{"s":"XHJ","d":93,"v":-33.8},{"s":"XHJ","d":94,"v":-32.56},
{"s":"XJO","d":0,"v":0},{"s":"XJO","d":2,"v":-0.4},{"s":"XJO","d":4,"v":-0.3},{"s":"XJO","d":5,"v":-0.3},{"s":"XJO","d":6,"v":0.4},{"s":"XJO","d":8,"v":1.0},{"s":"XJO","d":9,"v":1.4},{"s":"XJO","d":10,"v":1.9},{"s":"XJO","d":11,"v":1.4},{"s":"XJO","d":13,"v":0.7},{"s":"XJO","d":14,"v":1.2},{"s":"XJO","d":15,"v":1.7},{"s":"XJO","d":16,"v":2.5},{"s":"XJO","d":17,"v":2.5},{"s":"XJO","d":19,"v":1.9},{"s":"XJO","d":20,"v":0.7},{"s":"XJO","d":21,"v":1.4},{"s":"XJO","d":22,"v":2.2},{"s":"XJO","d":23,"v":1.4},{"s":"XJO","d":24,"v":-0.3},{"s":"XJO","d":25,"v":1.7},{"s":"XJO","d":26,"v":1.7},{"s":"XJO","d":27,"v":3.6},{"s":"XJO","d":28,"v":3.5},{"s":"XJO","d":29,"v":2.2},{"s":"XJO","d":30,"v":2.5},{"s":"XJO","d":31,"v":2.9},{"s":"XJO","d":32,"v":3.2},{"s":"XJO","d":33,"v":4.1},{"s":"XJO","d":34,"v":4.1},{"s":"XJO","d":35,"v":3.3},{"s":"XJO","d":36,"v":3.3},{"s":"XJO","d":37,"v":4.6},{"s":"XJO","d":38,"v":5.1},{"s":"XJO","d":39,"v":5.4},{"s":"XJO","d":40,"v":5.4},{"s":"XJO","d":41,"v":4.1},{"s":"XJO","d":42,"v":2.2},{"s":"XJO","d":43,"v":2.5},{"s":"XJO","d":44,"v":1.4},{"s":"XJO","d":45,"v":-1.4},{"s":"XJO","d":46,"v":-0.4},{"s":"XJO","d":47,"v":0.1},{"s":"XJO","d":48,"v":-1.2},{"s":"XJO","d":49,"v":-1.3},{"s":"XJO","d":50,"v":-1.7},{"s":"XJO","d":51,"v":-1.3},{"s":"XJO","d":52,"v":-1.0},{"s":"XJO","d":53,"v":-2.9},{"s":"XJO","d":54,"v":-3.6},{"s":"XJO","d":55,"v":-4.1},{"s":"XJO","d":56,"v":-4.1},{"s":"XJO","d":57,"v":-2.3},{"s":"XJO","d":58,"v":-2.5},{"s":"XJO","d":59,"v":-2.6},{"s":"XJO","d":60,"v":-3.0},{"s":"XJO","d":61,"v":-2.9},{"s":"XJO","d":62,"v":-1.9},{"s":"XJO","d":63,"v":-1.7},{"s":"XJO","d":64,"v":1.2},{"s":"XJO","d":65,"v":2.8},{"s":"XJO","d":66,"v":2.8},{"s":"XJO","d":67,"v":2.5},{"s":"XJO","d":68,"v":2.3},{"s":"XJO","d":69,"v":2.8},{"s":"XJO","d":70,"v":2.8},{"s":"XJO","d":71,"v":2.6},{"s":"XJO","d":72,"v":2.6},{"s":"XJO","d":74,"v":2.5},{"s":"XJO","d":75,"v":1.4},{"s":"XJO","d":76,"v":0.9},{"s":"XJO","d":77,"v":0.7},{"s":"XJO","d":78,"v":0.4},{"s":"XJO","d":79,"v":-0.3},{"s":"XJO","d":80,"v":-0.4},{"s":"XJO","d":81,"v":-0.7},{"s":"XJO","d":82,"v":0},{"s":"XJO","d":83,"v":-0.3},{"s":"XJO","d":84,"v":-0.4},{"s":"XJO","d":85,"v":0.7},{"s":"XJO","d":86,"v":1.7},{"s":"XJO","d":87,"v":0.3},{"s":"XJO","d":88,"v":-0.4},{"s":"XJO","d":89,"v":-0.9},{"s":"XJO","d":90,"v":-1.2},{"s":"XJO","d":91,"v":-1.2},{"s":"XJO","d":92,"v":-1.2},{"s":"XJO","d":93,"v":-2.5},{"s":"XJO","d":94,"v":-1.41}
]
},
"resolve": {"scale": {"y": "independent"}},
"layer": [
{
"data": {"name": "series"},
"mark": {"type": "line", "strokeWidth": 2, "clip": true},
"encoding": {
"x": {"field": "d", "type": "quantitative", "scale": {"domain": [-1.13, 104.4], "nice": false, "zero": false},
"axis": {"orient": "bottom", "values": [0, 20, 40, 62, 82, 103], "labelExpr": "datum.value == 0 ? '26' : datum.value == 20 ? 'Feb' : datum.value == 40 ? 'Mar' : datum.value == 62 ? 'Apr' : datum.value == 82 ? 'May' : 'Jun'", "labelAlign": {"condition": {"test": "datum.value == 0", "value": "left"}, "value": "center"}, "title": null, "grid": true, "gridColor": "#F0F3FA", "ticks": false, "domainColor": "#E0E3EB", "labelColor": "#131722", "labelFontSize": 11, "labelPadding": 7, "labelFont": "Roboto", "zindex": 0}},
"y": {"field": "v", "type": "quantitative", "scale": {"domain": [-37.68, 40.58], "nice": false, "zero": false},
"axis": {"orient": "right", "values": [-36, -32, -28, -24, -20, -16, -12, -8, -4, 0, 4, 8, 12, 16, 20, 24, 28, 32, 36], "labelExpr": "indexof([12, 8, 4, 0, -20, -32], datum.value) >= 0 ? '' : replace(format(datum.value, '.2f'), '-', '\u2212') + '%'", "labelOffset": {"condition": [{"test": "datum.value == 28", "value": -7}, {"test": "datum.value == -16", "value": 5}], "value": 0}, "title": null, "grid": true, "gridColor": "#F0F3FA", "ticks": false, "domainColor": "#E0E3EB", "labelColor": "#131722", "labelFontSize": 11, "labelAlign": "left", "labelPadding": 9, "labelFont": "Roboto", "zindex": 0}},
"color": {"field": "s", "type": "nominal", "legend": null,
"scale": {"domain": ["XEJ","XMJ","XUJ","XSJ","XTJ","XFJ","XRE","XDJ","XIJ","XHJ","XJO"],
"range": ["#4CAF50","#F23645","#FF9800","#2E7BE6","#6A3DB8","#C2185B","#26C6DA","#FFB74D","#434651","#F23645","#000000"]}}
}
},
{
"mark": {"type": "rule", "color": "#B2B5BE", "strokeWidth": 1},
"encoding": {"y": {"datum": 0, "type": "quantitative", "scale": {"domain": [-37.68, 40.58], "nice": false, "zero": false}, "axis": null}}
},
{
"mark": {"type": "rule", "color": "#6A6D78", "strokeWidth": 1, "strokeDash": [1, 2]},
"encoding": {"y": {"datum": -1.41, "type": "quantitative", "scale": {"domain": [-37.68, 40.58], "nice": false, "zero": false}, "axis": null}}
},
{
"data": {"name": "tags"},
"mark": {"type": "tick", "orient": "horizontal", "size": 25, "thickness": 16, "opacity": 1},
"encoding": {
"x": {"datum": 102.88, "type": "quantitative"},
"y": {"field": "tv", "type": "quantitative", "scale": {"domain": [-37.68, 40.58], "nice": false, "zero": false}, "axis": null},
"color": {"field": "s", "type": "nominal", "legend": null}
}
},
{
"data": {"name": "tags"},
"mark": {"type": "tick", "orient": "horizontal", "size": 52, "thickness": 16, "opacity": 1},
"encoding": {
"x": {"datum": 107.46, "type": "quantitative"},
"y": {"field": "tv", "type": "quantitative", "scale": {"domain": [-37.68, 40.58], "nice": false, "zero": false}, "axis": null},
"color": {"field": "s", "type": "nominal", "legend": null}
}
},
{
"data": {"name": "tags"},
"mark": {"type": "text", "align": "center", "baseline": "middle", "fontSize": 11, "font": "Roboto"},
"encoding": {
"x": {"datum": 102.88, "type": "quantitative"},
"y": {"field": "tv", "type": "quantitative", "scale": {"domain": [-37.68, 40.58], "nice": false, "zero": false}, "axis": null},
"text": {"field": "s"},
"color": {"condition": {"test": "indexof(['XUJ','XRE','XDJ'], datum.s) >= 0", "value": "#131722"}, "value": "#ffffff"}
}
},
{
"data": {"name": "tags"},
"mark": {"type": "text", "align": "left", "baseline": "middle", "fontSize": 11, "font": "Roboto"},
"encoding": {
"x": {"datum": 105.42, "type": "quantitative"},
"y": {"field": "tv", "type": "quantitative", "scale": {"domain": [-37.68, 40.58], "nice": false, "zero": false}, "axis": null},
"text": {"field": "val"},
"color": {"condition": {"test": "indexof(['XUJ','XRE','XDJ'], datum.s) >= 0", "value": "#131722"}, "value": "#ffffff"}
}
},
{
"data": {"name": "legend"},
"mark": {"type": "text", "align": "left", "baseline": "middle", "fontSize": 11, "font": "Roboto", "color": "#131722"},
"encoding": {
"x": {"datum": 0.76, "type": "quantitative"},
"y": {"field": "o", "type": "quantitative", "scale": {"domain": [-1.09, 32.98], "nice": false, "zero": false, "reverse": true}, "axis": null},
"text": {"field": "name"}
}
},
{
"data": {"name": "legend"},
"mark": {"type": "text", "align": "left", "baseline": "middle", "fontSize": 11, "font": "Roboto"},
"encoding": {
"x": {"datum": 6.78, "type": "quantitative"},
"y": {"field": "o", "type": "quantitative", "scale": {"domain": [-1.09, 32.98], "nice": false, "zero": false, "reverse": true}, "axis": null},
"text": {"field": "val"},
"color": {"field": "s", "type": "nominal", "legend": null}
}
}
]
}
